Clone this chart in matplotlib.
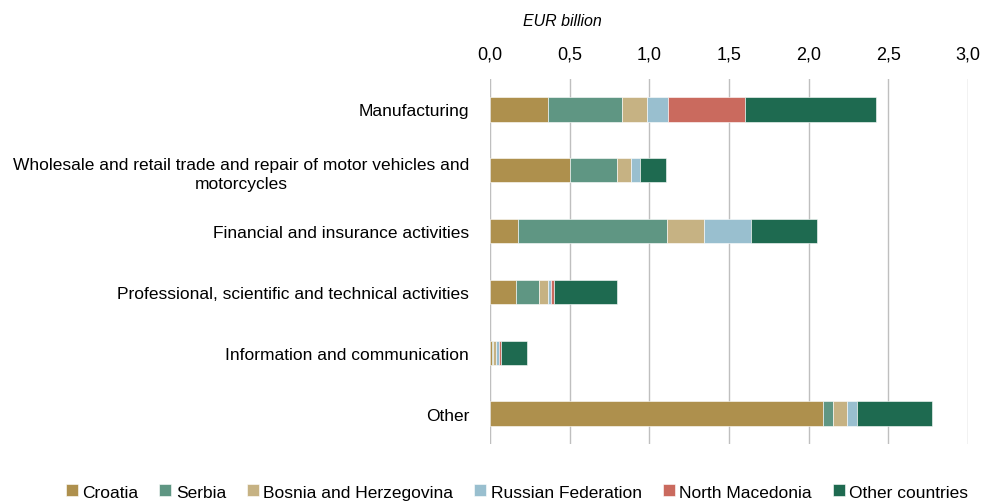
import matplotlib.pyplot as plt
from matplotlib.ticker import FuncFormatter

plt.rcParams['font.family'] = ['Liberation Sans', 'DejaVu Sans']

# Data (EUR billion)
sectors = ["Manufacturing",
           "Wholesale and retail trade and repair of motor vehicles and\nmotorcycles",
           "Financial and insurance activities",
           "Professional, scientific and technical activities",
           "Information and communication",
           "Other"]
croatia = [0.366, 0.504, 0.173, 0.163, 0.010, 2.090]
serbia = [0.464, 0.292, 0.937, 0.144, 0.011, 0.060]
bosnia = [0.156, 0.086, 0.230, 0.055, 0.017, 0.090]
russia = [0.130, 0.058, 0.296, 0.018, 0.016, 0.061]
north_macedonia = [0.487, 0.000, 0.000, 0.019, 0.015, 0.000]
other_countries = [0.821, 0.165, 0.416, 0.401, 0.161, 0.475]

series = [("Croatia", croatia, "#AE904D"),
          ("Serbia", serbia, "#5F9683"),
          ("Bosnia and Herzegovina", bosnia, "#C6B283"),
          ("Russian Federation", russia, "#99BFCF"),
          ("North Macedonia", north_macedonia, "#CA6A5E"),
          ("Other countries", other_countries, "#1E6A50")]

fig = plt.figure(figsize=(9.83, 5.02), dpi=100)
ax = fig.add_axes([490 / 983, 1 - 445 / 502, 478 / 983, 365 / 502])

ypos = list(range(len(sectors)))
left = [0.0] * len(sectors)
for name, vals, col in series:
    ax.barh(ypos, vals, left=left, height=0.4, color=col, label=name,
            edgecolor='white', linewidth=0.4, zorder=3)
    left = [l + v for l, v in zip(left, vals)]

ax.set_xlim(0, 3.0)
ax.set_ylim(5.5, -0.5)
ax.set_xticks([0, 0.5, 1.0, 1.5, 2.0, 2.5, 3.0])
ax.xaxis.set_major_formatter(FuncFormatter(lambda v, p: f"{v:.1f}".replace('.', ',')))
ax.xaxis.tick_top()
ax.tick_params(axis='x', length=0, pad=12, labelsize=13)
ax.tick_params(axis='y', length=0, pad=15, labelsize=12.5)
ax.set_yticks(ypos)
ax.set_yticklabels(sectors, multialignment='center', linespacing=1.35)

ax.grid(axis='x', color='#bfbfbf', linewidth=1, zorder=0)
for s in ax.spines.values():
    s.set_visible(False)
ax.axvline(0, color='#d9d9d9', linewidth=1.5, zorder=1)

fig.text(562 / 983, 1 - 22 / 502, "EUR billion", fontsize=11.5, style='italic',
         ha='center', va='center')

fig.legend(loc='center', bbox_to_anchor=(517 / 983, 1 - 493 / 502), ncol=6, frameon=False,
           fontsize=12.5, handlelength=0.69, handleheight=0.69, handletextpad=0.26,
           columnspacing=1.2, borderaxespad=0, borderpad=0)

fig.savefig("out.png", dpi=100)
